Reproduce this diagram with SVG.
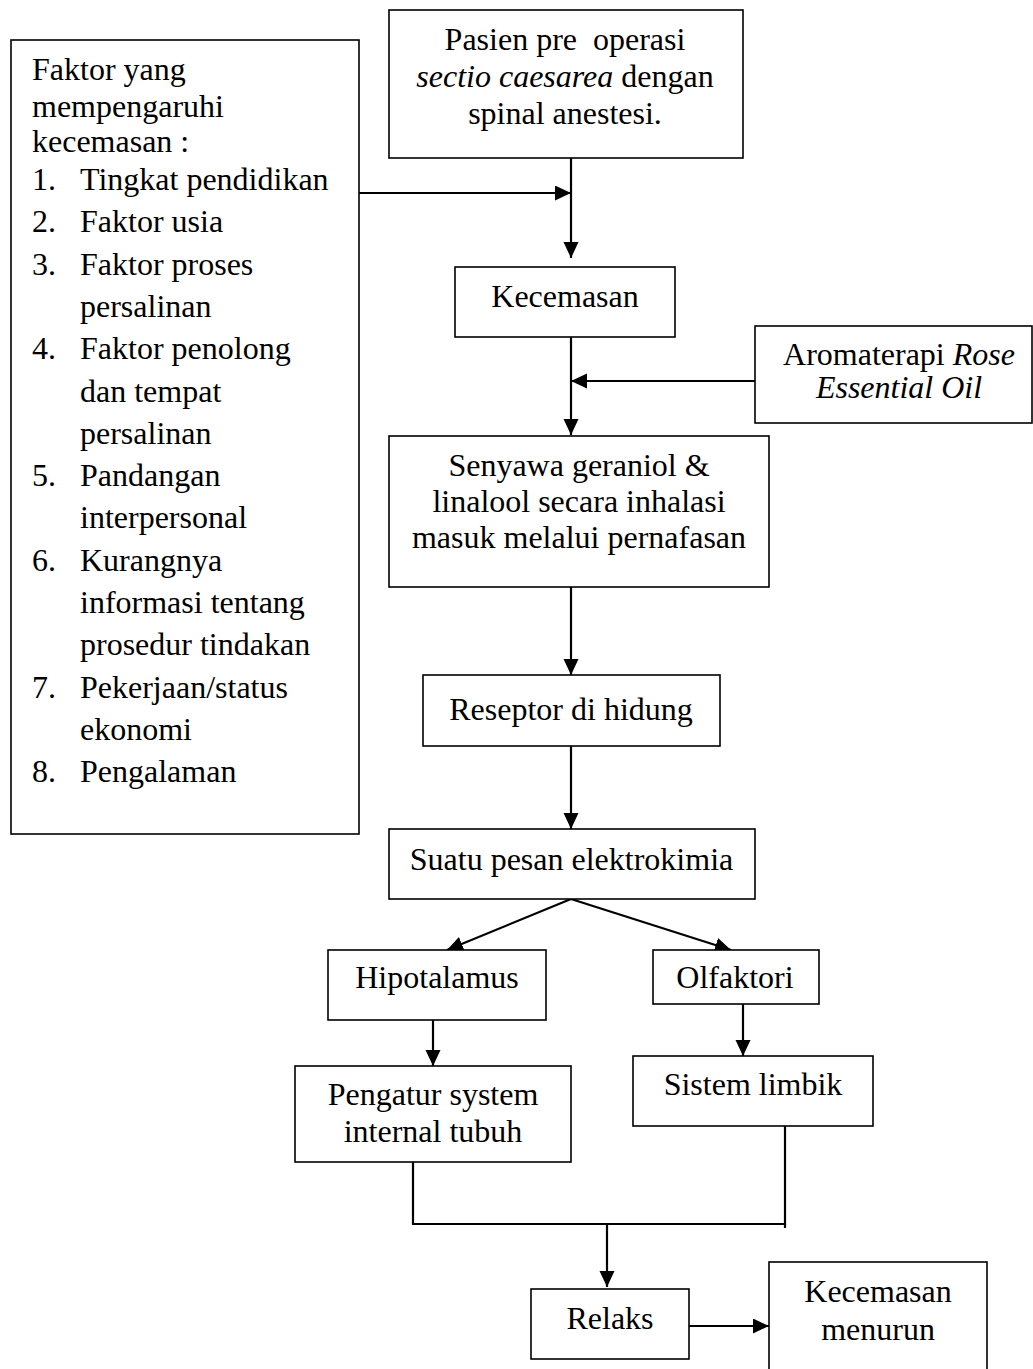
<svg xmlns="http://www.w3.org/2000/svg" width="1033" height="1369" viewBox="0 0 1033 1369">
<style>
.box{fill:#fff;stroke:#000;stroke-width:1.6}
.t{font-family:"Liberation Serif","Times New Roman",serif;font-size:32px;fill:#000}
.c{text-anchor:middle}
.i{font-style:italic}
.con{fill:none;stroke:#000;stroke-width:2.2}
</style>
<defs>
<marker id="ah" markerUnits="userSpaceOnUse" markerWidth="16" markerHeight="16" refX="16" refY="7.5" orient="auto">
<path d="M0,0 L16,7.5 L0,15 z" fill="#000"/>
</marker>
</defs>
<rect width="1033" height="1369" fill="#fff"/>

<g id="connectors">
<line class="con" x1="359" y1="193" x2="571" y2="193" marker-end="url(#ah)"/>
<line class="con" x1="571" y1="158" x2="571" y2="258" marker-end="url(#ah)"/>
<line class="con" x1="571" y1="337" x2="571" y2="435" marker-end="url(#ah)"/>
<line class="con" x1="755" y1="381" x2="571" y2="381" marker-end="url(#ah)"/>
<line class="con" x1="571" y1="587" x2="571" y2="675" marker-end="url(#ah)"/>
<line class="con" x1="571" y1="746" x2="571" y2="829" marker-end="url(#ah)"/>
<line class="con" x1="571" y1="899" x2="447" y2="950" marker-end="url(#ah)"/>
<line class="con" x1="571" y1="899" x2="731" y2="950" marker-end="url(#ah)"/>
<line class="con" x1="433" y1="1020" x2="433" y2="1066" marker-end="url(#ah)"/>
<line class="con" x1="743" y1="1004" x2="743" y2="1056" marker-end="url(#ah)"/>
<polyline class="con" points="413,1162 413,1224 785,1224 785,1126"/>
<line class="con" x1="785" y1="1224" x2="785" y2="1228"/>
<line class="con" x1="607" y1="1224" x2="607" y2="1287" marker-end="url(#ah)"/>
<line class="con" x1="689" y1="1326" x2="769" y2="1326" marker-end="url(#ah)"/>
</g>

<g id="faktor">
<rect class="box" x="11" y="40" width="348" height="794"/>
<text class="t" x="32" y="80">Faktor yang</text>
<text class="t" x="32" y="117">mempengaruhi</text>
<text class="t" x="32" y="152">kecemasan :</text>
<text class="t" x="32" y="190">1.</text><text class="t" x="80" y="190">Tingkat pendidikan</text>
<text class="t" x="32" y="232.3">2.</text><text class="t" x="80" y="232.3">Faktor usia</text>
<text class="t" x="32" y="274.6">3.</text><text class="t" x="80" y="274.6">Faktor proses</text>
<text class="t" x="80" y="316.9">persalinan</text>
<text class="t" x="32" y="359.2">4.</text><text class="t" x="80" y="359.2">Faktor penolong</text>
<text class="t" x="80" y="401.5">dan tempat</text>
<text class="t" x="80" y="443.8">persalinan</text>
<text class="t" x="32" y="486.1">5.</text><text class="t" x="80" y="486.1">Pandangan</text>
<text class="t" x="80" y="528.4">interpersonal</text>
<text class="t" x="32" y="570.7">6.</text><text class="t" x="80" y="570.7">Kurangnya</text>
<text class="t" x="80" y="613">informasi tentang</text>
<text class="t" x="80" y="655.3">prosedur tindakan</text>
<text class="t" x="32" y="697.6">7.</text><text class="t" x="80" y="697.6">Pekerjaan/status</text>
<text class="t" x="80" y="739.9">ekonomi</text>
<text class="t" x="32" y="782.2">8.</text><text class="t" x="80" y="782.2">Pengalaman</text>
</g>

<g id="pasien">
<rect class="box" x="389" y="10" width="354" height="148"/>
<text class="t c" x="565" y="50" xml:space="preserve">Pasien pre  operasi</text>
<text class="t c" x="565" y="87"><tspan class="i">sectio caesarea</tspan> dengan</text>
<text class="t c" x="565" y="124">spinal anestesi.</text>
</g>

<g id="kecemasan">
<rect class="box" x="455" y="267" width="220" height="70"/>
<text class="t c" x="565" y="307">Kecemasan</text>
</g>

<g id="aromaterapi">
<rect class="box" x="755" y="326" width="277" height="97"/>
<text class="t c" x="899" y="365">Aromaterapi <tspan class="i">Rose</tspan></text>
<text class="t c i" x="899" y="398">Essential Oil</text>
</g>

<g id="senyawa">
<rect class="box" x="389" y="436" width="380" height="151"/>
<text class="t c" x="579" y="476">Senyawa geraniol &amp;</text>
<text class="t c" x="579" y="512">linalool secara inhalasi</text>
<text class="t c" x="579" y="548">masuk melalui pernafasan</text>
</g>

<g id="reseptor">
<rect class="box" x="423" y="675" width="297" height="71"/>
<text class="t c" x="571" y="720">Reseptor di hidung</text>
</g>

<g id="suatu">
<rect class="box" x="389" y="829" width="366" height="70"/>
<text class="t c" x="571.5" y="870">Suatu pesan elektrokimia</text>
</g>

<g id="hipotalamus">
<rect class="box" x="328" y="950" width="218" height="70"/>
<text class="t c" x="437" y="988">Hipotalamus</text>
</g>

<g id="olfaktori">
<rect class="box" x="653" y="950" width="166" height="54"/>
<text class="t c" x="735" y="988">Olfaktori</text>
</g>

<g id="pengatur">
<rect class="box" x="295" y="1066" width="276" height="96"/>
<text class="t c" x="433" y="1105">Pengatur system</text>
<text class="t c" x="433" y="1142">internal tubuh</text>
</g>

<g id="limbik">
<rect class="box" x="633" y="1056" width="240" height="70"/>
<text class="t c" x="753" y="1095">Sistem limbik</text>
</g>

<g id="relaks">
<rect class="box" x="531" y="1289" width="158" height="70"/>
<text class="t c" x="610" y="1329">Relaks</text>
</g>

<g id="menurun">
<rect class="box" x="769" y="1262" width="218" height="130"/>
<text class="t c" x="878" y="1302">Kecemasan</text>
<text class="t c" x="878" y="1340">menurun</text>
</g>
</svg>
